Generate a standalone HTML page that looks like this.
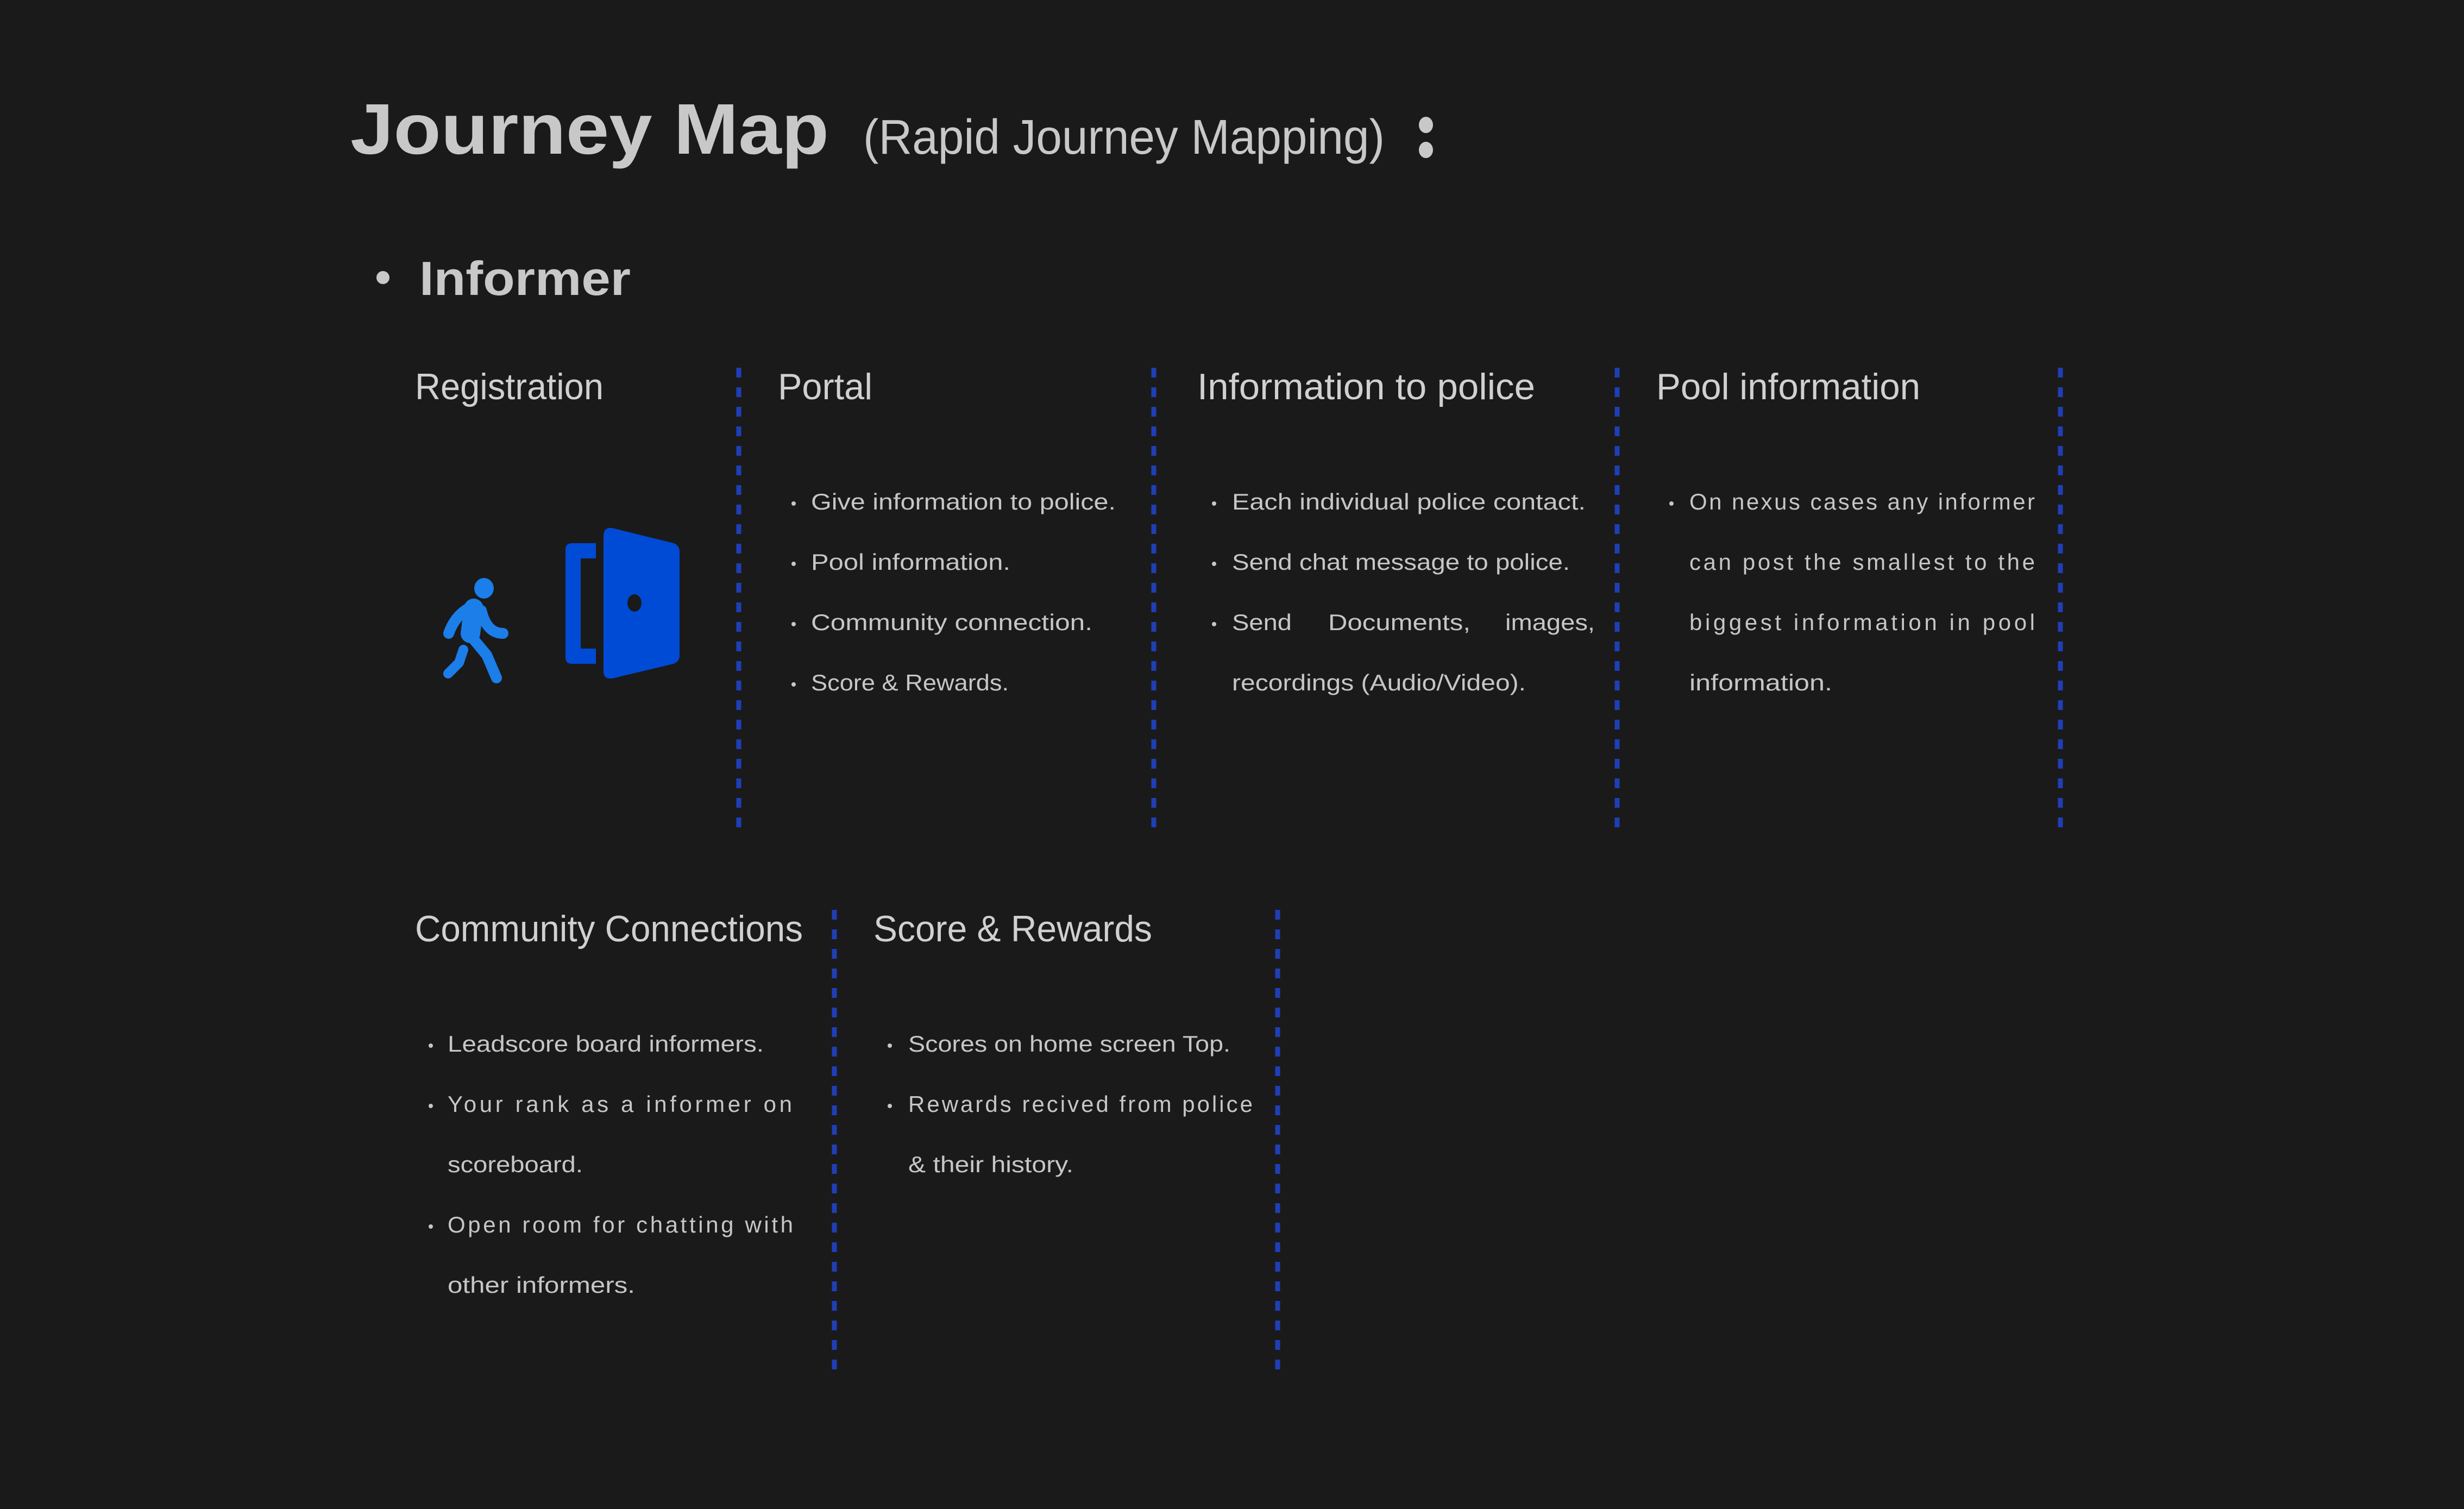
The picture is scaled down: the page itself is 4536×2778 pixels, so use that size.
<!DOCTYPE html>
<html><head><meta charset="utf-8"><style>
html,body{margin:0;padding:0;background:#1a1a1a;}
svg{display:block}
text{font-family:"Liberation Sans",sans-serif;fill:#c8c8c8}
.h{font-size:68px;fill:#d0d0d0}
.b{font-size:42px;fill:#c6c6c6}
</style></head><body>
<svg width="4536" height="2778" viewBox="0 0 4536 2778" xmlns="http://www.w3.org/2000/svg">
<rect width="4536" height="2778" fill="#1a1a1a"/>
<text x="645" y="283" font-size="132" font-weight="bold" textLength="881" lengthAdjust="spacingAndGlyphs">Journey Map</text>
<text x="1589" y="283" font-size="90" textLength="960" lengthAdjust="spacingAndGlyphs">(Rapid Journey Mapping)</text>
<ellipse cx="2625" cy="230" rx="13" ry="15" fill="#c8c8c8"/>
<ellipse cx="2625" cy="276" rx="13" ry="15" fill="#c8c8c8"/>
<circle cx="705" cy="511" r="12" fill="#c8c8c8"/>
<text x="772" y="543" font-size="88" font-weight="bold" textLength="389" lengthAdjust="spacingAndGlyphs">Informer</text>

<text class="h" x="764" y="735" textLength="347" lengthAdjust="spacingAndGlyphs">Registration</text>
<text class="h" x="1432" y="735" textLength="174" lengthAdjust="spacingAndGlyphs">Portal</text>
<text class="h" x="2204" y="735" textLength="622" lengthAdjust="spacingAndGlyphs">Information to police</text>
<text class="h" x="3049" y="735" textLength="486" lengthAdjust="spacingAndGlyphs">Pool information</text>
<text class="h" x="764" y="1733" textLength="714" lengthAdjust="spacingAndGlyphs">Community Connections</text>
<text class="h" x="1608" y="1733" textLength="513" lengthAdjust="spacingAndGlyphs">Score &amp; Rewards</text>

<g stroke="#1f3fb6" stroke-width="9" stroke-dasharray="18 18">
<line x1="1360" y1="677" x2="1360" y2="1535"/>
<line x1="2124" y1="677" x2="2124" y2="1535"/>
<line x1="2977" y1="677" x2="2977" y2="1535"/>
<line x1="3793" y1="677" x2="3793" y2="1535"/>
<line x1="1536" y1="1675" x2="1536" y2="2537"/>
<line x1="2352" y1="1675" x2="2352" y2="2537"/>
</g>

<g fill="#c6c6c6">
<circle cx="1461" cy="927" r="4"/><circle cx="1461" cy="1038" r="4"/><circle cx="1461" cy="1149" r="4"/><circle cx="1461" cy="1260" r="4"/>
<circle cx="2235" cy="927" r="4"/><circle cx="2235" cy="1038" r="4"/><circle cx="2235" cy="1149" r="4"/>
<circle cx="3077" cy="927" r="4"/>
<circle cx="793" cy="1925" r="4"/><circle cx="793" cy="2036" r="4"/><circle cx="793" cy="2258" r="4"/>
<circle cx="1638" cy="1925" r="4"/><circle cx="1638" cy="2036" r="4"/>
</g>

<text class="b" x="1493" y="938" textLength="561" lengthAdjust="spacingAndGlyphs">Give information to police.</text>
<text class="b" x="1493" y="1049" textLength="367" lengthAdjust="spacingAndGlyphs">Pool information.</text>
<text class="b" x="1493" y="1160" textLength="518" lengthAdjust="spacingAndGlyphs">Community connection.</text>
<text class="b" x="1493" y="1271" textLength="364" lengthAdjust="spacingAndGlyphs">Score &amp; Rewards.</text>

<text class="b" x="2268" y="938" textLength="651" lengthAdjust="spacingAndGlyphs">Each individual police contact.</text>
<text class="b" x="2268" y="1049" textLength="622" lengthAdjust="spacingAndGlyphs">Send chat message to police.</text>
<text class="b" x="2268" y="1160" textLength="110" lengthAdjust="spacingAndGlyphs">Send</text>
<text class="b" x="2445" y="1160" textLength="262" lengthAdjust="spacingAndGlyphs">Documents,</text>
<text class="b" x="2771" y="1160" textLength="165" lengthAdjust="spacingAndGlyphs">images,</text>
<text class="b" x="2268" y="1271" textLength="541" lengthAdjust="spacingAndGlyphs">recordings (Audio/Video).</text>

<text class="b" x="3110" y="938" textLength="636" lengthAdjust="spacing">On nexus cases any informer</text>
<text class="b" x="3110" y="1049" textLength="636" lengthAdjust="spacing">can post the smallest to the</text>
<text class="b" x="3110" y="1160" textLength="636" lengthAdjust="spacing">biggest information in pool</text>
<text class="b" x="3110" y="1271" textLength="263" lengthAdjust="spacingAndGlyphs">information.</text>

<text class="b" x="824" y="1936" textLength="582" lengthAdjust="spacingAndGlyphs">Leadscore board informers.</text>
<text class="b" x="824" y="2047" textLength="634" lengthAdjust="spacing">Your rank as a informer on</text>
<text class="b" x="824" y="2158" textLength="249" lengthAdjust="spacingAndGlyphs">scoreboard.</text>
<text class="b" x="824" y="2269" textLength="636" lengthAdjust="spacing">Open room for chatting with</text>
<text class="b" x="824" y="2380" textLength="345" lengthAdjust="spacingAndGlyphs">other informers.</text>

<text class="b" x="1672" y="1936" textLength="593" lengthAdjust="spacingAndGlyphs">Scores on home screen Top.</text>
<text class="b" x="1672" y="2047" textLength="634" lengthAdjust="spacing">Rewards recived from police</text>
<text class="b" x="1672" y="2158" textLength="304" lengthAdjust="spacingAndGlyphs">&amp; their history.</text>

<g fill="none" stroke="#1b7ee9" stroke-linecap="round" stroke-linejoin="round">
<ellipse cx="891" cy="1083" rx="18" ry="19" fill="#1b7ee9" stroke="none"/>
<path d="M872 1120 L866 1166" stroke-width="36"/>
<path d="M866 1118 Q838 1132 826 1166" stroke-width="20"/>
<path d="M886 1124 Q896 1166 926 1166" stroke-width="20"/>
<path d="M866 1170 L896 1206 L914 1248" stroke-width="20"/>
<path d="M853 1196 L845 1220 L825 1240" stroke-width="18"/>
</g>
<path fill="#004bd6" fill-rule="evenodd" d="M1053 1000 H1097 V1028 H1069 V1194 H1097 V1222 H1053 Q1041 1222 1041 1210 V1012 Q1041 1000 1053 1000 Z"/>
<path fill="#004bd6" d="M1111 987 Q1111 970 1127 972 L1240 1000 Q1251 1004 1251 1016 V1206 Q1251 1218 1240 1222 L1127 1249 Q1111 1251 1111 1236 Z"/>
<ellipse cx="1168" cy="1110" rx="13" ry="16" fill="#1a1a1a"/>
</svg>
</body></html>
